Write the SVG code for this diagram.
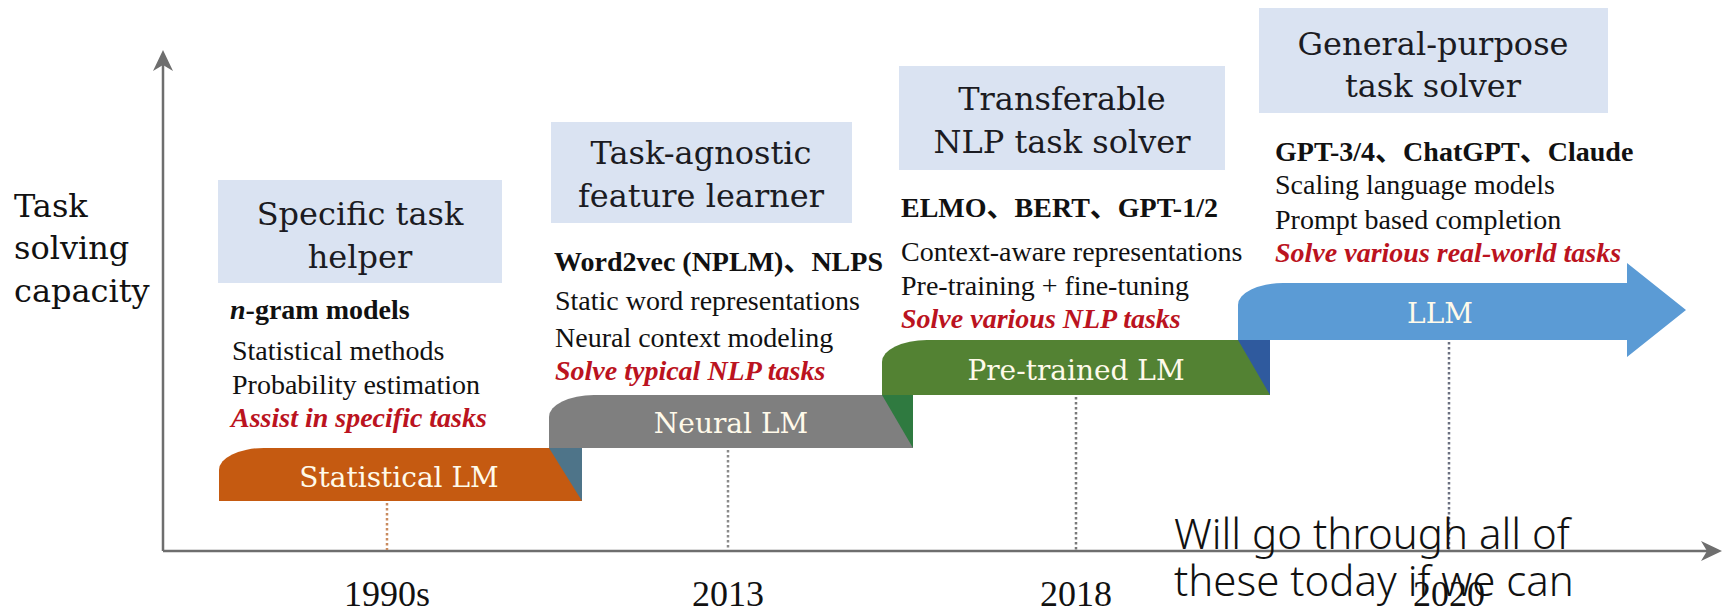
<svg xmlns="http://www.w3.org/2000/svg" width="1727" height="612" viewBox="0 0 1727 612">
<style>
.hd{font-family:"DejaVu Serif","Liberation Serif",serif;font-size:32px;fill:#1b1b22;text-anchor:middle}
.yl{font-family:"DejaVu Serif","Liberation Serif",serif;font-size:32px;fill:#111}
.bx{fill:#dae3f2}
.tx{font-family:"Liberation Serif","Noto Sans CJK SC",serif;font-size:28px;fill:#111}
.bd{font-weight:bold}
.rd{font-weight:bold;font-style:italic;fill:#bb1320}
.bl{font-family:"DejaVu Serif","Liberation Serif",serif;font-size:28px;fill:#fffaea;text-anchor:middle}
.yr{font-family:"Liberation Serif",serif;font-size:36px;fill:#111;text-anchor:middle}
.ax{stroke:#6e6e6e;stroke-width:2.5;fill:none}
.ah{fill:#6e6e6e}
.dt{stroke-width:2.5;stroke-dasharray:2.5 2.5;fill:none}
.nt{font-family:"Noto Sans","Open Sans","DejaVu Sans",sans-serif;font-size:42px;fill:#111;font-weight:300}
</style>

<g id="axes">
  <line class="ax" x1="163" y1="551" x2="163" y2="62"/>
  <path class="ah" d="M163,50 L153,71 L163,65 L173,71 Z"/>
  <line class="ax" x1="163" y1="551" x2="1710" y2="551"/>
  <path class="ah" d="M1722,551 L1701,541 L1707,551 L1701,561 Z"/>
</g>

<g id="y-label">
  <text class="yl" x="14" y="217">Task</text>
  <text class="yl" x="14" y="259">solving</text>
  <text class="yl" x="14" y="302">capacity</text>
</g>

<g id="guides">
  <line class="dt" stroke="#c98b5f" x1="387" y1="503" x2="387" y2="550"/>
  <line class="dt" stroke="#8a8a8a" x1="728" y1="450" x2="728" y2="550"/>
  <line class="dt" stroke="#7a7a7a" x1="1076" y1="397" x2="1076" y2="550"/>
  <line class="dt" stroke="#6b7080" x1="1449" y1="342" x2="1449" y2="550"/>
</g>

<g id="bar-statistical">
  <path fill="#c55a11" d="M219,501 L219,470 A45,22 0 0 1 264,448 L582,448 L582,501 Z"/>
  <text class="bl" x="399" y="487">Statistical LM</text>
</g>
<g id="bar-neural">
  <path fill="#7f7f7f" d="M549,448 L549,417 A45,22 0 0 1 594,395 L913,395 L913,448 Z"/>
  <path fill="#4e7489" d="M549,448 L582,448 L582,501 Z"/>
  <text class="bl" x="731" y="433">Neural LM</text>
</g>
<g id="bar-pretrained">
  <path fill="#538233" d="M882,395 L882,362 A45,22 0 0 1 927,340 L1270,340 L1270,395 Z"/>
  <path fill="#2f7a40" d="M882,395 L913,395 L913,448 Z"/>
  <text class="bl" x="1076" y="380">Pre-trained LM</text>
</g>
<g id="bar-llm">
  <path fill="#5b9bd5" d="M1238,340 L1238,305 A45,22 0 0 1 1283,283 L1627,283 L1627,263 L1686,310 L1627,357 L1627,340 Z"/>
  <path fill="#2f5a9e" d="M1238,340 L1270,340 L1270,395 Z"/>
  <text class="bl" x="1440" y="323">LLM</text>
</g>

<g id="stage-1">
  <rect class="bx" x="218" y="180" width="284" height="103"/>
  <text class="hd" x="360" y="225">Specific task</text>
  <text class="hd" x="360" y="268">helper</text>
  <text class="tx bd" x="230" y="319"><tspan font-style="italic">n</tspan>-gram models</text>
  <text class="tx" x="232" y="360">Statistical methods</text>
  <text class="tx" x="232" y="394">Probability estimation</text>
  <text class="tx rd" x="231" y="427">Assist in specific tasks</text>
</g>

<g id="stage-2">
  <rect class="bx" x="551" y="122" width="301" height="101"/>
  <text class="hd" x="701" y="164">Task-agnostic</text>
  <text class="hd" x="701" y="207">feature learner</text>
  <text class="tx bd" x="554" y="271">Word2vec (NPLM)、NLPS</text>
  <text class="tx" x="555" y="310">Static word representations</text>
  <text class="tx" x="555" y="347">Neural context modeling</text>
  <text class="tx rd" x="555" y="380">Solve typical NLP tasks</text>
</g>

<g id="stage-3">
  <rect class="bx" x="899" y="66" width="326" height="104"/>
  <text class="hd" x="1062" y="110">Transferable</text>
  <text class="hd" x="1062" y="153">NLP task solver</text>
  <text class="tx bd" x="901" y="217">ELMO、BERT、GPT-1/2</text>
  <text class="tx" x="901" y="261">Context-aware representations</text>
  <text class="tx" x="901" y="295">Pre-training + fine-tuning</text>
  <text class="tx rd" x="901" y="328">Solve various NLP tasks</text>
</g>

<g id="stage-4">
  <rect class="bx" x="1259" y="8" width="349" height="105"/>
  <text class="hd" x="1433" y="55">General-purpose</text>
  <text class="hd" x="1433" y="97">task solver</text>
  <text class="tx bd" x="1275" y="161">GPT-3/4、ChatGPT、Claude</text>
  <text class="tx" x="1275" y="194">Scaling language models</text>
  <text class="tx" x="1275" y="229">Prompt based completion</text>
  <text class="tx rd" x="1275" y="262">Solve various real-world tasks</text>
</g>

<g id="years">
  <text class="yr" x="387" y="606">1990s</text>
  <text class="yr" x="728" y="606">2013</text>
  <text class="yr" x="1076" y="606">2018</text>
  <text class="yr" x="1449" y="606">2020</text>
</g>

<g id="note">
  <text class="nt" x="1174" y="549">Will go through all of</text>
  <text class="nt" x="1174" y="596">these today if we can</text>
</g>
</svg>
